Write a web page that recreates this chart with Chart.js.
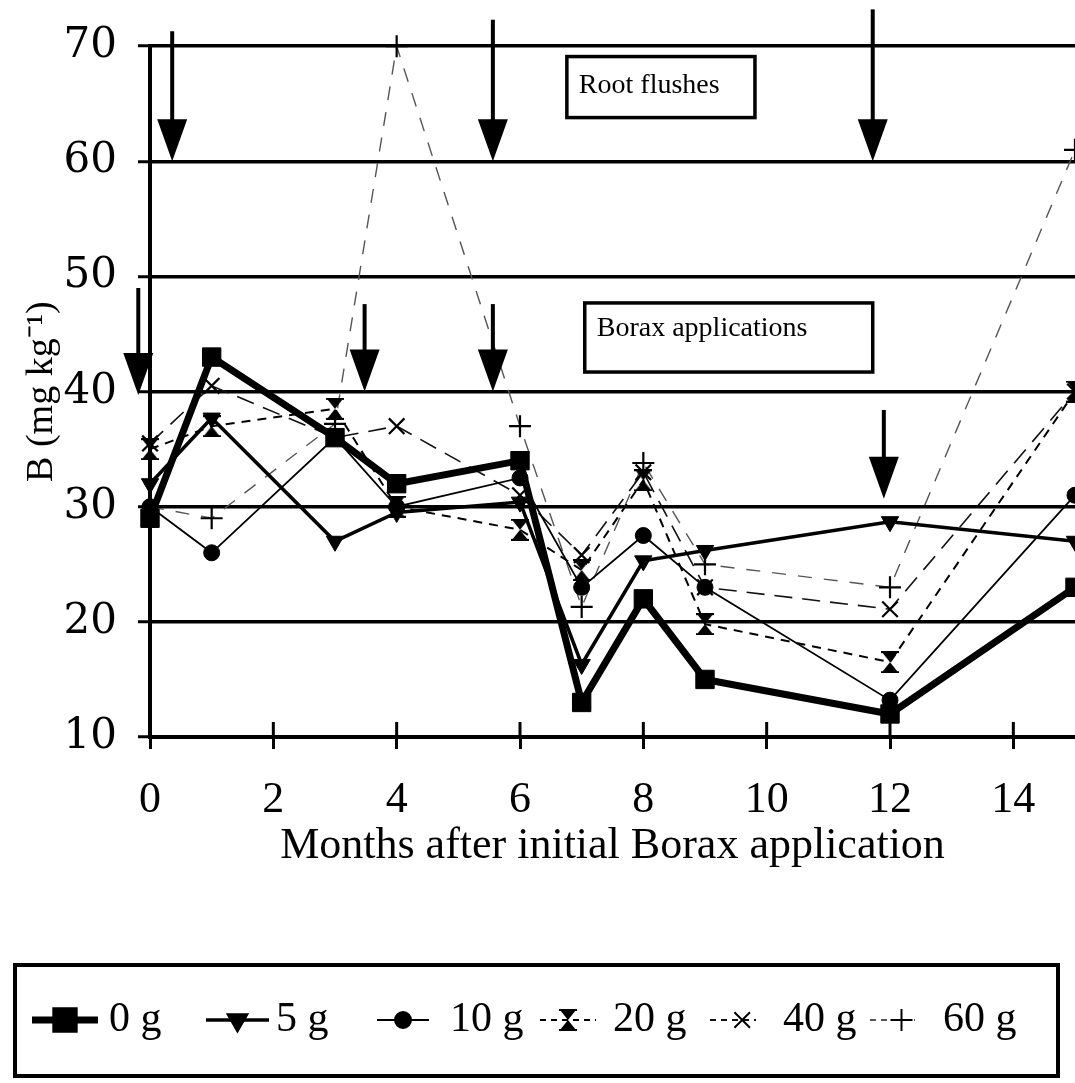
<!DOCTYPE html>
<html>
<head>
<meta charset="utf-8">
<script src="https://cdn.jsdelivr.net/npm/chart.js@4.4.1/dist/chart.umd.min.js"></script>
<style>
html,body{margin:0;padding:0;background:#fff;overflow:hidden}
#wrap{width:1075px;height:1083px;position:relative;background:#fff}
</style>
</head>
<body>
<div id="wrap"><canvas id="c" width="1075" height="1083"></canvas></div>
<script>
// ---------- data ----------
const months = [0, 1, 3, 4, 6, 7, 8, 9, 12, 15];
const seriesLabels = ['0 g', '5 g', '10 g', '20 g', '40 g', '60 g'];
const b0g  = [29, 43, 36, 32, 34, 13, 22, 15, 12, 23];
const b5g  = [32, 37.7, 27, 29.5, 30.4, 16.3, 25.3, 26.2, 28.7, 27];
const b10g = [30, 26, 36, 30, 32.5, 23, 27.5, 23, 13.2, 31];
const b20g = [35, 37, 38.5, 30, 28, 24.5, 32.3, 19.8, 16.5, 40];
const b40g = [35.5, 40.5, 36, 37, 31, 25.8, 33, 23, 21.1, 40];
const b60g = [30, 29, 37.2, 70, 37, 21.3, 33.8, 25, 23, 61];

const xTickStep = 2;
const yTickStep = 10;

// annotation positions (months / mg kg-1)
const rootFlushMonths = [0.36, 5.56, 11.72];
const rootFlushTops   = [71.3, 72.3, 73.2];
const rootFlushTip    = 60;
const boraxMonths = [-0.19, 3.48, 5.56, 11.9];
const boraxTops   = [49.0, 47.6, 47.6, 38.4];
const boraxTips   = [39.7, 40, 40, 30.7];

const serif = "'Liberation Serif', 'Times New Roman', serif";

// ---------- marker for 20 g (hourglass) ----------
function makeHourglass(w, h) {
  const c = document.createElement('canvas');
  c.width = w; c.height = h;
  const g = c.getContext('2d');
  g.fillStyle = '#000';
  g.beginPath();
  g.moveTo(1, 1); g.lineTo(w - 1, 1); g.lineTo(w / 2, h / 2); g.closePath();
  g.moveTo(w / 2, h / 2); g.lineTo(w - 1, h - 1); g.lineTo(1, h - 1); g.closePath();
  g.fill();
  g.lineWidth = 2;
  g.beginPath(); g.moveTo(0, 1); g.lineTo(w, 1); g.moveTo(0, h - 1); g.lineTo(w, h - 1); g.stroke();
  return c;
}
const hourglass = makeHourglass(18, 22);

const values = [b0g, b5g, b10g, b20g, b40g, b60g];
const styles = [
  {borderWidth: 7,   dash: [],       color: '#000', pointStyle: 'rect',     radius: 13, rotation: 0,   pbw: 1},
  {borderWidth: 3.5, dash: [],       color: '#000', pointStyle: 'triangle', radius: 10, rotation: 180, pbw: 1},
  {borderWidth: 1.8, dash: [],       color: '#000', pointStyle: 'circle',   radius: 8,  rotation: 0,   pbw: 1},
  {borderWidth: 2,   dash: [9, 7],   color: '#000', pointStyle: hourglass,  radius: 10, rotation: 0,   pbw: 1},
  {borderWidth: 1.6, dash: [18, 10], color: '#111', pointStyle: 'crossRot', radius: 11, rotation: 0,   pbw: 2.2},
  {borderWidth: 1.4, dash: [14, 12], color: '#555', pointStyle: 'cross',    radius: 11, rotation: 0,   pbw: 2.2}
];

const datasets = seriesLabels.map((lab, i) => ({
  label: lab,
  data: months.map((m, j) => ({x: m, y: values[i][j]})),
  borderColor: styles[i].color,
  backgroundColor: '#000',
  borderWidth: styles[i].borderWidth,
  borderDash: styles[i].dash,
  pointStyle: styles[i].pointStyle,
  pointRadius: styles[i].radius,
  pointRotation: styles[i].rotation,
  pointBackgroundColor: '#000',
  pointBorderColor: '#000',
  pointBorderWidth: styles[i].pbw,
  tension: 0,
  clip: false,
  fill: false
}));

// ---------- plugins ----------
const extras = {
  id: 'extras',
  afterDatasetsDraw(chart) {
    const {ctx, scales: {x, y}} = chart;
    ctx.save();
    // x tick marks crossing the axis (upper part)
    ctx.strokeStyle = '#000'; ctx.lineWidth = 3;
    x.ticks.forEach(t => {
      const px = x.getPixelForValue(t.value);
      ctx.beginPath(); ctx.moveTo(px, chart.chartArea.bottom - 15); ctx.lineTo(px, chart.chartArea.bottom); ctx.stroke();
    });
    // arrows
    function arrow(m, top, tip) {
      const px = x.getPixelForValue(m);
      const py0 = y.getPixelForValue(top);
      const py1 = y.getPixelForValue(tip);
      ctx.lineWidth = 4; ctx.strokeStyle = '#000'; ctx.fillStyle = '#000';
      ctx.beginPath(); ctx.moveTo(px, py0); ctx.lineTo(px, py1 - 30); ctx.stroke();
      ctx.beginPath(); ctx.moveTo(px - 15, py1 - 42); ctx.lineTo(px + 15, py1 - 42); ctx.lineTo(px, py1); ctx.closePath(); ctx.fill();
    }
    rootFlushMonths.forEach((m, i) => arrow(m, rootFlushTops[i], rootFlushTip));
    boraxMonths.forEach((m, i) => arrow(m, boraxTops[i], boraxTips[i]));
    // text boxes
    function box(m0, m1, v0, v1, text, base) {
      const x0 = x.getPixelForValue(m0), x1 = x.getPixelForValue(m1);
      const y0 = y.getPixelForValue(v0), y1 = y.getPixelForValue(v1);
      ctx.fillStyle = '#fff'; ctx.fillRect(x0, y0, x1 - x0, y1 - y0);
      ctx.lineWidth = 3.5; ctx.strokeStyle = '#000'; ctx.strokeRect(x0, y0, x1 - x0, y1 - y0);
      ctx.fillStyle = '#000'; ctx.font = '28px ' + serif; ctx.textAlign = 'left'; ctx.textBaseline = 'alphabetic';
      ctx.fillText(text, x0 + 12, y0 + base);
    }
    box(6.76, 9.81, 69.1, 63.8, 'Root flushes', 36);
    box(7.05, 11.72, 47.7, 41.7, 'Borax applications', 33);
    ctx.restore();
  },
  afterDraw(chart) {
    const {ctx} = chart;
    ctx.save();
    // legend box
    ctx.lineWidth = 4; ctx.strokeStyle = '#000';
    ctx.strokeRect(15, 965, 1043, 111);
    const cy = 1020;
    const spans = [[32, 98, 109], [206, 269, 276], [377, 429, 450], [540, 596, 613], [710, 756, 783], [870, 915, 943]];
    chart.data.datasets.forEach((ds, i) => {
      const [s0, s1, tx] = spans[i];
      ctx.strokeStyle = ds.borderColor; ctx.lineWidth = Math.max(ds.borderWidth, 2);
      ctx.setLineDash(ds.borderDash.length ? [6, 5] : []);
      ctx.beginPath(); ctx.moveTo(s0, cy); ctx.lineTo(s1, cy); ctx.stroke();
      ctx.setLineDash([]);
      ctx.fillStyle = '#000'; ctx.strokeStyle = '#000';
      const mx = (i >= 4) ? s0 + (s1 - s0) * 0.7 : (s0 + s1) / 2;
      Chart.helpers.drawPoint(ctx, {pointStyle: ds.pointStyle, radius: ds.pointRadius, rotation: ds.pointRotation, borderWidth: ds.pointBorderWidth}, mx, cy);
      ctx.fillStyle = '#000'; ctx.font = '42px ' + serif; ctx.textAlign = 'left'; ctx.textBaseline = 'middle';
      ctx.fillText(ds.label, tx, cy);
    });
    ctx.restore();
  }
};

new Chart(document.getElementById('c'), {
  type: 'line',
  data: {datasets},
  plugins: [extras],
  options: {
    responsive: false,
    devicePixelRatio: 1,
    animation: false,
    layout: {autoPadding: false, padding: {top: 45, right: 0, bottom: 210, left: 0}},
    plugins: {legend: {display: false}, tooltip: {enabled: false}},
    scales: {
      x: {
        type: 'linear', min: 0, max: 15,
        afterFit(s) { s.height = 136; },
        ticks: {stepSize: xTickStep, includeBounds: false, padding: 25, color: '#000', font: {family: serif, size: 44}},
        grid: {drawOnChartArea: false, drawTicks: true, tickLength: 12, tickWidth: 3, tickColor: '#000'},
        border: {display: true, color: '#000', width: 4},
        title: {display: true, text: 'Months after initial Borax application', color: '#000', font: {family: serif, size: 44}, padding: {top: 0, bottom: 0}}
      },
      y: {
        min: 10, max: 70,
        afterFit(s) { s.width = 150; },
        ticks: {stepSize: yTickStep, padding: 21, color: '#000', font: {family: "'DejaVu Serif', serif", size: 42}},
        grid: {color: '#000', lineWidth: 3.5, drawTicks: true, tickLength: 12, tickWidth: 3, tickColor: '#000'},
        border: {display: true, color: '#000', width: 4},
        title: {display: true, text: 'B (mg kg⁻¹)', color: '#000', font: {family: serif, size: 38}, padding: {top: 19, bottom: 0}}
      }
    }
  }
});
</script>
</body>
</html>
